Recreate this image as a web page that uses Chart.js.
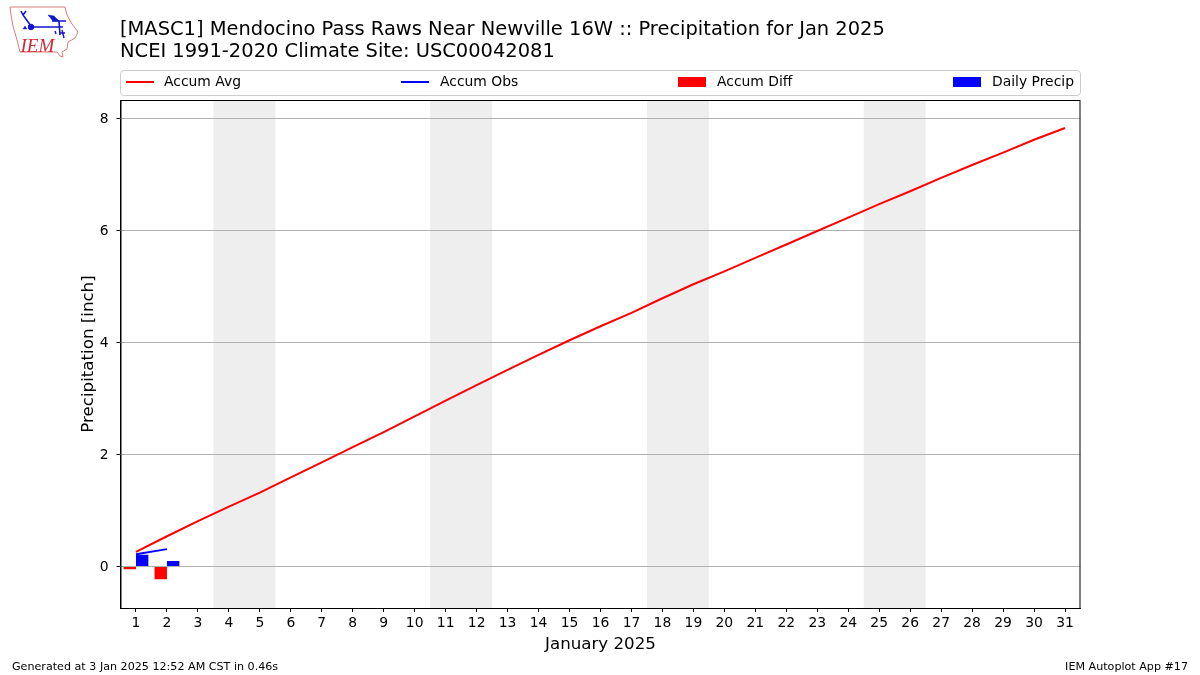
<!DOCTYPE html>
<html>
<head>
<meta charset="UTF-8">
<title>IEM Autoplot 17</title>
<script src="https://cdn.jsdelivr.net/npm/chart.js"></script>
<style>
    html, body { margin: 0; padding: 0; background: #fff; }
    body { width: 1200px; height: 675px; position: relative; overflow: hidden; font-family: "DejaVu Sans", sans-serif; color: #000; }
    canvas { position: absolute; left: 0; top: 0; }
    .titulo { position: absolute; left: 120px; top: 18px; font-size: 19.47px; line-height: 22px; white-space: nowrap; }
    .rodape { position: absolute; top: 660px; font-size: 11.14px; line-height: 13px; white-space: nowrap; }
    #legenda { position: absolute; left: 120px; top: 70px; width: 959px; height: 24px; border: 1px solid #ccc; border-radius: 4px; font-size: 13.9px; }
    #legenda .item { position: absolute; top: 2px; line-height: 16px; white-space: nowrap; }
    #legenda i { position: absolute; left: 0; width: 28px; }
    #logo { position: absolute; left: 0; top: 0; }
</style>
</head>
<body>
<canvas id="grafico" width="1200" height="675"></canvas>
<svg id="logo" width="90" height="62" viewBox="0 0 90 62">
    <path d="M10 7 L65 7 L67 15 L72 24 L78 32 L75 38 L68 42 L67 49 L62 52 L63 57 L60 56 L57 52 L20 52 L17 40 L13 26 L11 15 Z" fill="none" stroke="#dd7b7b" stroke-width="1"/>
    <g stroke="#1414d2" fill="#1414d2">
        <path d="M31 27 L63 27 M59 21 L60 35 M52 21 L66 21 M31 26 L23 15 M23 15 L21 11 M23 15 L26 11" fill="none" stroke-width="1.6"/>
        <circle cx="31" cy="27" r="2.8"/>
        <path d="M48 15 L54 16 L59 21 L53 21 Z" stroke-width="0.5"/>
        <path d="M55 31 L56 34 M62 30 L64 38 M60 33 L65 33" fill="none" stroke-width="1.4"/>
        <path d="M23 29 L25 26 L27 29 Z" stroke-width="0.4"/>
    </g>
    <text x="20.5" y="52" font-family="Liberation Serif" font-style="italic" font-size="19" fill="#d02a35">IEM</text>
</svg>
<div class="titulo">[MASC1] Mendocino Pass Raws Near Newville 16W :: Precipitation for Jan 2025<br>NCEI 1991-2020 Climate Site: USC00042081</div>
<div id="legenda"></div>
<div class="rodape" style="left:12px">Generated at 3 Jan 2025 12:52 AM CST in 0.46s</div>
<div class="rodape" style="right:12px">IEM Autoplot App #17</div>

<script>
    const dias = ['1','2','3','4','5','6','7','8','9','10','11','12','13','14','15','16','17','18','19','20','21','22','23','24','25','26','27','28','29','30','31'];
    const accumAvg = [0.26,0.54,0.81,1.07,1.32,1.59,1.86,2.13,2.40,2.68,2.96,3.24,3.51,3.78,4.04,4.29,4.53,4.79,5.04,5.27,5.51,5.75,5.99,6.23,6.47,6.70,6.94,7.17,7.39,7.62,7.83];
    const accumObs = [0.22,0.31];
    const accumDiff = [-0.05,-0.23];
    const dailyPrecip = [0.21,0.10];
    const fimDeSemana = [['4','5'],['11','12'],['18','19'],['25','26']];
    const yTicks = [0,2,4,6,8];

    const fonte = '"DejaVu Sans", sans-serif';

    // faixas cinza dos fins de semana + moldura do grafico
    const faixas = {
        id: 'faixas',
        beforeDatasetsDraw(chart) {
            const { ctx, chartArea: a, scales: { x } } = chart;
            const passo = x.getPixelForValue(1) - x.getPixelForValue(0);
            ctx.save();
            ctx.fillStyle = '#eeeeee';
            fimDeSemana.forEach(par => {
                const ini = x.getPixelForValue(dias.indexOf(par[0])) - passo / 2;
                const fim = x.getPixelForValue(dias.indexOf(par[1])) + passo / 2;
                ctx.fillRect(ini, a.top, fim - ini, a.bottom - a.top);
            });
            ctx.restore();
            // a grade fica por cima da faixa
            ctx.save();
            ctx.strokeStyle = '#b0b0b0';
            ctx.lineWidth = 1;
            yTicks.forEach(v => {
                const y = Math.floor(chart.scales.y.getPixelForValue(v)) + 0.5;
                ctx.beginPath();
                ctx.moveTo(a.left, y);
                ctx.lineTo(a.right, y);
                ctx.stroke();
            });
            ctx.restore();
        },
        afterDraw(chart) {
            const { ctx, chartArea: a } = chart;
            ctx.save();
            ctx.strokeStyle = '#000';
            ctx.lineWidth = 1;
            ctx.strokeRect(a.left + 0.5, a.top + 0.5, a.right - a.left - 1, a.bottom - a.top);
            ctx.restore();
        }
    };

    const config = {
        type: 'bar',
        data: {
            labels: dias,
            datasets: [
                { type: 'line', label: 'Accum Avg', data: accumAvg, borderColor: '#ff0000', borderWidth: 2, pointRadius: 0, tension: 0, order: 1 },
                { type: 'line', label: 'Accum Obs', data: accumObs, borderColor: '#0000ff', borderWidth: 2, pointRadius: 0, tension: 0, order: 1 },
                { label: 'Accum Diff', data: accumDiff, backgroundColor: '#ff0000', barPercentage: 1, categoryPercentage: 0.8, order: 2 },
                { label: 'Daily Precip', data: dailyPrecip, backgroundColor: '#0000ff', barPercentage: 1, categoryPercentage: 0.8, order: 2 }
            ]
        },
        options: {
            responsive: false,
            animation: false,
            layout: { padding: { left: 79, top: 100, right: 119.5, bottom: 20 } },
            plugins: { legend: { display: false }, title: { display: false }, tooltip: { enabled: false } },
            scales: {
                x: {
                    grid: { offset: false, drawOnChartArea: false, tickColor: '#000', tickLength: 4 },
                    border: { color: '#000' },
                    ticks: { color: '#000', font: { family: fonte, size: 13.9 }, autoSkip: false, maxRotation: 0, padding: 3 },
                    title: { display: true, text: 'January 2025', color: '#000', font: { family: fonte, size: 16.67 }, padding: { top: 1, bottom: 0 } },
                    afterFit(scale) { scale.height = 47; }
                },
                y: {
                    min: -0.7414,
                    max: 8.33,
                    grid: { drawOnChartArea: false, tickColor: '#000', tickLength: 4 },
                    border: { color: '#000' },
                    ticks: { color: '#000', font: { family: fonte, size: 13.9 }, padding: 8, labelOffset: 1 },
                    title: { display: true, text: 'Precipitation [inch]', color: '#000', font: { family: fonte, size: 16.67 }, padding: 0 },
                    afterBuildTicks(scale) { scale.ticks = yTicks.map(v => ({ value: v })); },
                    afterFit(scale) { scale.width = 41.5; }
                }
            }
        },
        plugins: [faixas]
    };

    const myChart = new Chart(document.getElementById('grafico'), config);

    // legenda distribuida na largura toda, como no original
    const legenda = document.getElementById('legenda');
    const posicoes = [5, 280, 557, 832];
    const recuoTexto = [38, 39, 39, 39];
    myChart.data.datasets.forEach((d, i) => {
        const item = document.createElement('div');
        item.className = 'item';
        item.style.left = posicoes[i] + 'px';
        const cor = d.type === 'line' ? d.borderColor : d.backgroundColor;
        const alt = d.type === 'line' ? 2 : 10;
        const topo = d.type === 'line' ? 8 : 4;
        item.innerHTML = `<i style="background:${cor};height:${alt}px;top:${topo}px"></i><span style="margin-left:${recuoTexto[i]}px">${d.label}</span>`;
        legenda.appendChild(item);
    });
</script>
</body>
</html>
